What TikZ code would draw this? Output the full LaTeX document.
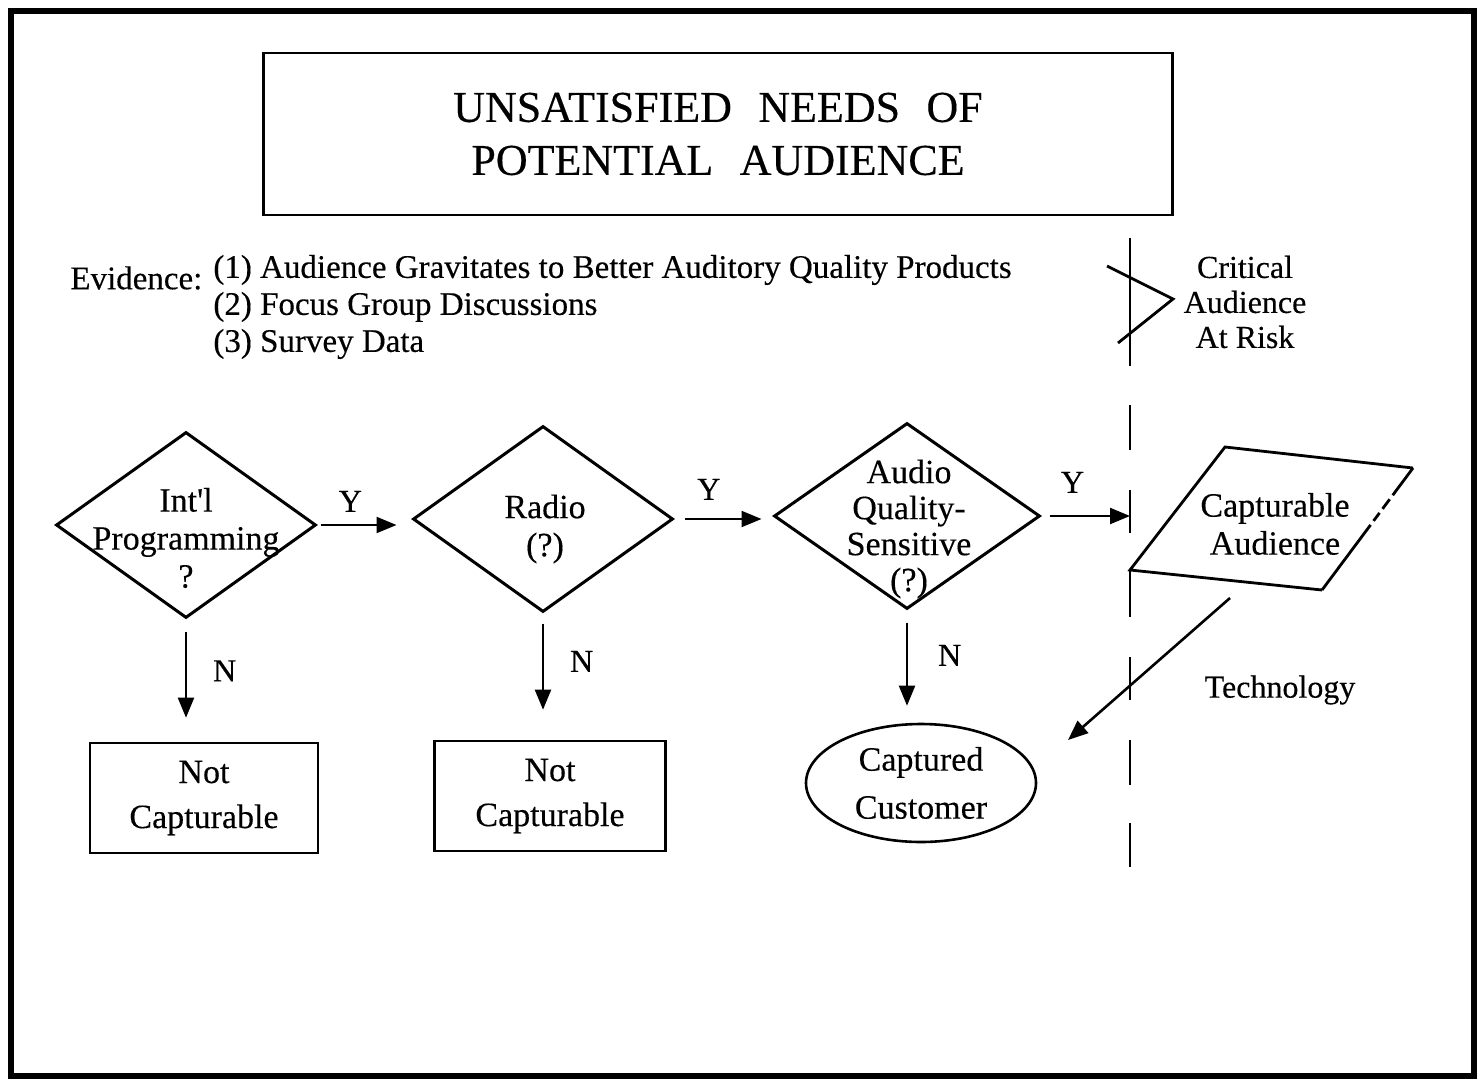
\documentclass[tikz,border=0pt]{standalone}
\usepackage{fontspec}
\setmainfont{Liberation Serif}[FakeBold=0.3, Ligatures=TeXOff]
\usetikzlibrary{shapes.geometric,arrows.meta}
\begin{document}
\begin{tikzpicture}[x=0.5pt,y=-0.5pt]
    \tikzstyle{dec}=[draw=black, diamond, line width=1.5pt, minimum width=130pt, minimum height=93pt, inner sep=0pt];
    \tikzstyle{txt}=[align=center, font=\fontsize{17}{19}\selectfont, inner sep=0pt];
    \tikzstyle{bx}=[draw=black, line width=1.3pt, minimum width=114pt, minimum height=55pt, align=center, font=\fontsize{17}{22.5}\selectfont];
    \tikzstyle{ar}=[line width=1.1pt, -{Triangle[length=10pt,width=8pt]}];
    \tikzstyle{yn}=[font=\fontsize{16}{18}\selectfont, inner sep=0pt];
    \tikzstyle{side}=[align=center, font=\fontsize{16}{17.5}\selectfont, inner sep=0pt];

    \useasboundingbox (0,0) rectangle (1481,1085);
    \draw[line width=2.6pt] (11,11) rectangle (1474,1076);

    % title and evidence
    \node at (718,134) [draw=black, line width=1.4pt, minimum width=454.5pt, minimum height=81pt, align=center, font=\fontsize{22}{26.5}\selectfont] (title) {UNSATISFIED\hspace{.6em}NEEDS\hspace{.6em}OF\\POTENTIAL\hspace{.6em}AUDIENCE};
    \node at (70,278) [anchor=west, font=\fontsize{16.5}{18.5}\selectfont, inner sep=0pt] (ev) {Evidence:};
    \node at (213,307) [anchor=west, align=left, font=\fontsize{16.5}{18.5}\selectfont, inner sep=0pt] (evlist) {(1) Audience Gravitates to Better Auditory Quality Products\\(2) Focus Group Discussions\\(3) Survey Data};
    \node at (1245,302) [side] (risk) {Critical\\Audience\\At Risk};

    % dashed divider with break
    \foreach \a/\b in {238/366, 405/450, 490/533, 570/617, 657/700, 740/785, 823/867}
        \draw[line width=1.2pt] (1130,\a) -- (1130,\b);
    \draw[line width=1.4pt] (1107,266) -- (1173,299) -- (1118,343);
    \coordinate (cut) at (1130,513);

    % decisions
    \node at (186,525) [dec] (intl) {};
    \node at (186,538) [txt] (intlt) {Int'l\\Programming\\?};
    \node at (543,519) [dec] (radio) {};
    \node at (545,529) [txt] (radiot) {Radio\\(?)};
    \node at (907,516) [dec, minimum width=133pt] (audio) {};
    \node at (909,529) [txt, font=\fontsize{17}{18}\selectfont] (audiot) {Audio\\Quality-\\Sensitive\\(?)};

    % outcomes
    \node at (204,798) [bx] (nc1) {Not\\Capturable};
    \node at (550,796) [bx, minimum width=115.5pt] (nc2) {Not\\Capturable};
    \node at (921,783) [bx, ellipse, minimum width=115pt, minimum height=59pt, inner sep=0pt, font=\fontsize{17}{24}\selectfont] (cust) {Captured\\Customer};

    % capturable audience
    \coordinate (p1) at (1225,447);
    \coordinate (p2) at (1413,468);
    \coordinate (p3) at (1322,590);
    \coordinate (p4) at (1130,570);
    \draw[line width=1.4pt] (p3) -- (p4) -- (p1) -- (p2);
    \draw[line width=1.4pt, dash pattern=on 17pt off 2.5pt on 6pt off 2.5pt on 5pt off 2.5pt on 41pt] (p2) -- (p3);
    \node at (1275,524) [txt] (capa) {Capturable\\Audience};

    % connectors
    \draw[ar, shorten <=1.5pt, shorten >=7.5pt] (intl.east) -- (intl.east -| radio.west) node[yn, pos=.35, above=6pt] (y1) {Y};
    \draw[ar, shorten <=5pt, shorten >=5.5pt] (radio.east) -- (radio.east -| audio.west) node[yn, pos=.35, above=9pt] (y2) {Y};
    \draw[ar, shorten <=4pt] (audio.east) -- (audio.east -| cut) node[yn, pos=.35, above=11pt] (y3) {Y};
    \draw[ar, shorten <=6pt, shorten >=12pt] (intl.south) -- (intl.south |- nc1.north) node[yn, pos=.42, right=13pt] (n1) {N};
    \draw[ar, shorten <=5pt, shorten >=15pt] (radio.south) -- (radio.south |- nc2.north) node[yn, pos=.38, right=13pt] (n2) {N};
    \draw[ar, shorten <=6pt, shorten >=8.5pt] (audio.south) -- (audio.south |- cust.north) node[yn, pos=.4, right=15pt] (n3) {N};
    \coordinate (tf) at (1230,598);
    \coordinate (tt) at (1068,740);
    \draw[ar, line width=1.3pt] (tf) -- (tt);
    \node at (1280,690) [side] (tech) {Technology};
\end{tikzpicture}
\end{document}
